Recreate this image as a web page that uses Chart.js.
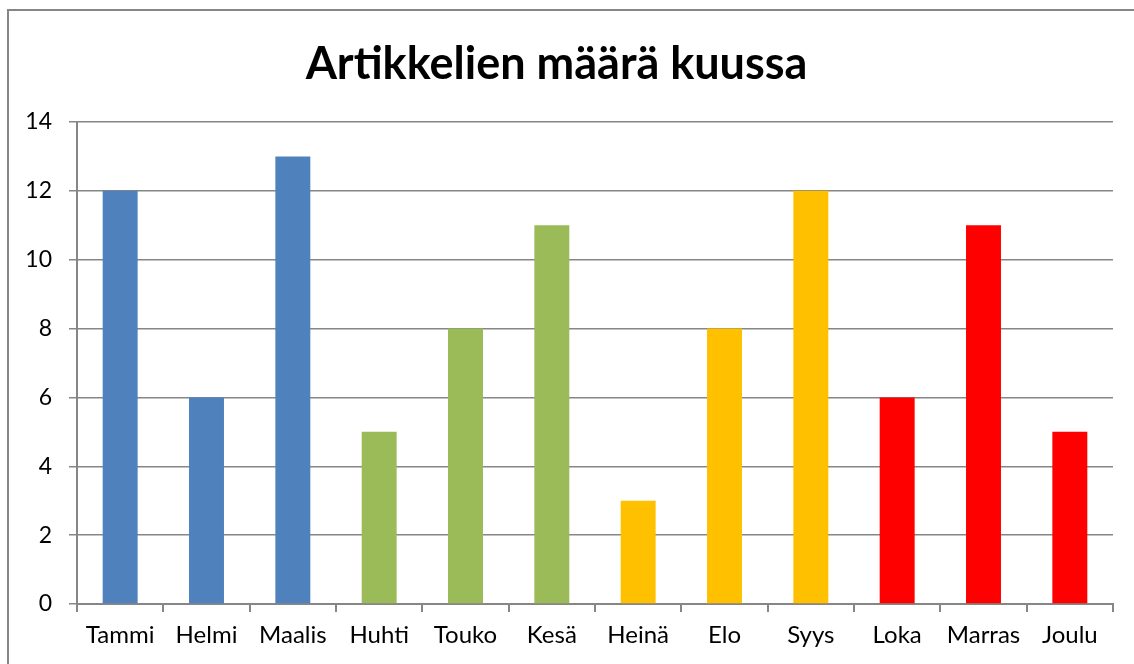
<!DOCTYPE html>
<html>
<head>
<meta charset="utf-8">
<script src="https://cdn.jsdelivr.net/npm/chart.js@4"></script>
<style>
  html, body { margin: 0; padding: 0; background: #fff; overflow: hidden; }
  #wrap { position: relative; width: 1134px; height: 664px; overflow: hidden; }
  #frame { position: absolute; left: 7px; top: 9px; right: 0; bottom: 0; border-left: 2px solid #868686; border-top: 2px solid #868686; }
  canvas { position: absolute; left: 0; top: 0; }
</style>
</head>
<body>
<div id="wrap">
  <div id="frame"></div>
  <canvas id="articlesChart" width="1134" height="664"></canvas>
</div>
<script>
const months = ["Tammi", "Helmi", "Maalis", "Huhti", "Touko", "Kesä", "Heinä", "Elo", "Syys", "Loka", "Marras", "Joulu"];
const articleCounts = [12, 6, 13, 5, 8, 11, 3, 8, 12, 6, 11, 5];
const seasonColors = ["#4F81BD", "#4F81BD", "#4F81BD", "#9BBB59", "#9BBB59", "#9BBB59", "#FFC000", "#FFC000", "#FFC000", "#FF0000", "#FF0000", "#FF0000"];

const gridGray = "#868686";
const font = "Lato, Carlito, Calibri, sans-serif";

const ctx = document.getElementById("articlesChart").getContext("2d");
new Chart(ctx, {
    type: "bar",
    data: {
        labels: months,
        datasets: [{
            label: "Artikkelit",
            data: articleCounts,
            backgroundColor: seasonColors,
            barPercentage: 0.405,
            categoryPercentage: 1
        }]
    },
    options: {
        responsive: false,
        animation: false,
        layout: { padding: { left: 0, right: 21, top: 0, bottom: 0 } },
        plugins: {
            legend: { display: false },
            tooltip: { enabled: false },
            title: {
                display: true,
                text: "Artikkelien määrä kuussa",
                color: "#000",
                font: { family: font, size: 45, weight: "bold", lineHeight: 1.2 },
                padding: { top: 37, bottom: 31 }
            }
        },
        scales: {
            x: {
                afterFit: (scale) => { scale.height = 60; },
                grid: { offset: true, drawOnChartArea: false, color: gridGray, tickColor: gridGray, tickLength: 8, lineWidth: 2 },
                border: { color: gridGray, width: 2 },
                ticks: { color: "#000", font: { family: font, size: 24 }, padding: 9, maxRotation: 0 }
            },
            y: {
                min: 0,
                max: 14,
                afterFit: (scale) => { scale.width = 77; },
                grid: { color: gridGray, tickColor: gridGray, tickLength: 8, lineWidth: 1.5 },
                border: { color: gridGray, width: 2 },
                ticks: { stepSize: 2, color: "#000", font: { family: font, size: 23 }, padding: 17 }
            }
        }
    }
});
</script>
</body>
</html>
